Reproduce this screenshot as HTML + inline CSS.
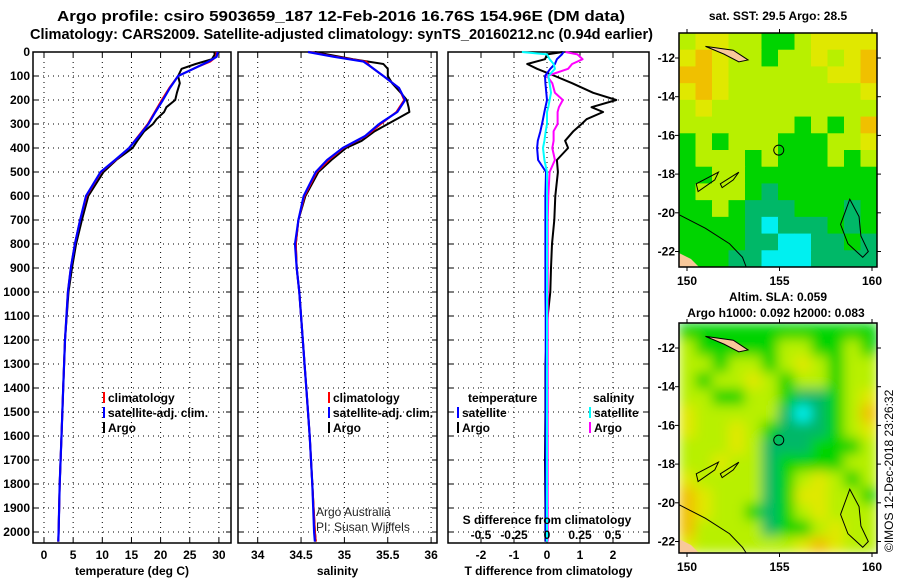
<!DOCTYPE html>
<html><head><meta charset="utf-8"><style>
body{margin:0;background:#fff;}
svg{display:block;font-family:"Liberation Sans",sans-serif;}
.t{font-weight:bold;font-size:15px;}
.a{font-weight:bold;font-size:12px;}
</style></head><body>
<svg id="c" width="900" height="580" viewBox="0 0 900 580">
<defs>
<filter id="bl" x="0" y="0" width="1" height="1"><feGaussianBlur stdDeviation="6"/></filter>
<clipPath id="cp2"><rect x="679" y="323" width="198" height="230"/></clipPath>
</defs>
<text class="t" x="57" y="21" textLength="568" lengthAdjust="spacingAndGlyphs">Argo profile: csiro 5903659_187 12-Feb-2016 16.76S 154.96E (DM data)</text>
<text class="t" x="30" y="39" textLength="623" lengthAdjust="spacingAndGlyphs">Climatology: CARS2009. Satellite-adjusted climatology: synTS_20160212.nc (0.94d earlier)</text>
<text class="a" x="778" y="20" text-anchor="middle">sat. SST: 29.5 Argo: 28.5</text>
<text class="a" x="778" y="301" text-anchor="middle">Altim. SLA: 0.059</text>
<text class="a" x="776" y="317" text-anchor="middle">Argo h1000: 0.092 h2000: 0.083</text>
<text x="893" y="552" font-size="12" transform="rotate(-90 893 552)">©IMOS 12-Dec-2018 23:26:32</text>
<g id="g"></g>
</svg>
<script>
// ---------- data ----------
const depthTicks=[0,100,200,300,400,500,600,700,800,900,1000,1100,1200,1300,1400,1500,1600,1700,1800,1900,2000];
const tempTicks=[0,5,10,15,20,25,30];
const salTicks=[34,34.5,35,35.5,36];
const tdiffTicks=[-2,-1,0,1,2];
const sdiffTicks=[-0.5,-0.25,0,0.25,0.5];
const sdiffLabels=["-0.5","-0.25","0","0.25","0.5"];

const climDepth=[0,20,40,60,100,150,200,250,300,350,400,450,500,600,700,800,900,1000,1200,1400,1600,1800,2000,2040];
const climTemp=[29.6,29.5,28.5,26.5,23.0,21.5,20.2,19.0,17.8,16.2,14.6,12.3,9.8,7.3,6.2,5.3,4.6,4.1,3.6,3.3,3.0,2.7,2.5,2.45];
const satTemp=[29.8,29.6,28.2,26.5,23.0,21.6,20.4,19.1,17.9,16.3,14.6,12.2,9.7,7.2,6.2,5.3,4.6,4.1,3.6,3.3,3.0,2.7,2.5,2.45];
const argoDepth=[0,10,30,50,70,100,130,170,200,230,250,280,300,330,370,400,450,500,600,700,800,900,1000,1200,1400,1600,1800,2000,2040];
const argoTemp=[29.2,29.3,28.8,26.0,23.6,23.0,23.3,22.8,22.5,21.0,20.6,19.3,18.7,17.2,16.0,15.2,12.4,10.2,7.6,6.5,5.5,4.8,4.2,3.6,3.3,3.0,2.7,2.5,2.45];

const climSal=[34.6,34.9,35.25,35.3,35.45,35.63,35.69,35.6,35.42,35.25,34.99,34.82,34.68,34.54,34.47,34.44,34.45,34.48,34.52,34.56,34.6,34.63,34.66,34.67];
const satSal=[34.58,34.88,35.22,35.3,35.45,35.63,35.7,35.61,35.4,35.24,34.98,34.8,34.67,34.53,34.47,34.43,34.45,34.48,34.52,34.56,34.6,34.63,34.65,34.66];
const argoSal=[34.66,34.8,35.1,35.45,35.5,35.5,35.55,35.65,35.72,35.74,35.75,35.6,35.5,35.35,35.2,35.02,34.85,34.7,34.55,34.47,34.44,34.45,34.48,34.52,34.56,34.6,34.63,34.66,34.67];

const diffDepth=[0,10,30,50,70,100,130,170,200,230,250,280,300,330,370,400,450,500,600,700,800,900,1000,1100,1300,1500,1700,1900,2040];
const tSatDiff=[0.5,0.45,0.3,0.24,0.1,-0.06,-0.05,-0.02,0,-0.05,-0.08,-0.12,-0.15,-0.2,-0.28,-0.3,-0.27,-0.03,-0.05,-0.05,-0.05,-0.05,-0.05,-0.04,-0.04,-0.04,-0.04,-0.04,-0.04];
const tArgoDiff=[0.48,0,-0.06,-0.6,-0.3,0.24,0.76,1.4,2.1,1.35,1.7,1.2,1.05,0.8,0.55,0.64,0.3,0.33,0.25,0.22,0.15,0.12,0.1,0.02,-0.05,-0.05,-0.06,-0.05,-0.05];
const sSatDiff=[-0.19,0,0.02,0.05,0.06,0.01,0.02,0.03,0.02,0.01,0.0,0.0,0.0,-0.01,-0.02,-0.03,-0.02,0.0,0.0,0.0,0.0,0.0,0.0,0.0,0.0,0.0,0.0,0.0,0.0];
const sArgoDiff=[0.14,0.23,0.27,0.19,0.16,0.0,0.04,0.06,0.12,0.09,0.08,0.08,0.08,0.05,0.05,0.04,0.06,0.02,0.01,0.005,0.005,0.005,0.005,0.005,0.005,0.005,0.005,0.005,0.005];

// map grids (color codes)
const sstGrid=["LYYLLGGLYYYY","YOYLLGLLYLYO","OOYLLLLLLYYO","YOYLLLLLLLLY","LYLLLLLLLLLL","LLLLLLLGLGLO","GLGLLLGGGLLY","GLLLGLGGGLGL","GGLLGGGGGGGG","GLLLGDGGGGGG","GGLGDDDGGGDG","GGGGDCDDDGDG","GGGGDDCCDDGD","GGGDDCCCDDDD"];
const slaGrid=["GGGGGGGGGGGG","LGGGGGLLGGLG","LLGLLGLYLGLL","LGLLYLGLLGLL","LLGGLLGDDGLY","YLLLLLDCDGLO","YLLYLGDDDGLY","LLLYLDDDGGGL","LLYLLDGGGGLL","YLLLLDGLYLGL","OYLLLDGYYLLG","OYLLGDGLYLLL","OLLLLDGGLYLL","YLLLLLLYOYLL"];
const argoLon=154.96, argoLat=-16.76;

// ---------- helpers ----------
const NS='http://www.w3.org/2000/svg';
const G=document.getElementById('g');
function mk(tag,at,parent){const e=document.createElementNS(NS,tag);for(const k in at)e.setAttribute(k,at[k]);(parent||G).appendChild(e);return e;}
const Y0=52, YK=0.24, yB=543, yT=52;
const yD=d=>Y0+d*YK;
const panels=[{x0:33,x1:231,f:v=>44+v*5.83,ticks:tempTicks,lab:"temperature (deg C)",name:"temperature"},
{x0:238,x1:437,f:v=>257.7+(v-34)*86.7,ticks:salTicks,lab:"salinity",name:"salinity"},
{x0:448,x1:649,f:v=>547+v*33,ticks:tdiffTicks,lab:"T difference from climatology",name:"difference"}];
const sx=v=>547+v*132;

panels.forEach((p,pi)=>{
  const fr=mk('g',{});
  
  
  depthTicks.forEach(d=>{const y=yD(d);
    mk('line',{x1:p.x0,x2:p.x1,y1:y,y2:y,stroke:'#000','stroke-width':1,'stroke-dasharray':'1,4'},fr);
    mk('line',{x1:p.x0,x2:p.x0+5,y1:y,y2:y,stroke:'#000'},fr);
    mk('line',{x1:p.x1-5,x2:p.x1,y1:y,y2:y,stroke:'#000'},fr);
    if(pi==0){const t=mk('text',{x:30,y:y+4,'text-anchor':'end',class:'a'},fr);t.textContent=d;
      }
  });
  p.ticks.forEach(v=>{const x=p.f(v);
    mk('line',{x1:x,x2:x,y1:yT,y2:yB,stroke:'#000','stroke-dasharray':'1,4'},fr);
    mk('line',{x1:x,x2:x,y1:yB-5,y2:yB,stroke:'#000'},fr);
    mk('line',{x1:x,x2:x,y1:yT,y2:yT+5,stroke:'#000'},fr);
    const t=mk('text',{x:x,y:559,'text-anchor':'middle',class:'a'},fr);t.textContent=v;
    
  });
  mk('rect',{x:p.x0,y:yT,width:p.x1-p.x0,height:yB-yT,fill:'none',stroke:'#000','stroke-width':1.5},fr);
  const t=mk('text',{x:(p.x0+p.x1)/2,y:575,'text-anchor':'middle',class:'a','font-size':13},fr);t.textContent=p.lab;
  
});

function line(depths,vals,fx,color,w,name){
  const pts=depths.map((d,i)=>fx(vals[i]).toFixed(1)+','+yD(d).toFixed(1)).join(' ');
  const e=mk('polyline',{points:pts,fill:'none',stroke:color,'stroke-width':w,'stroke-linejoin':'round'});
  
  
}
const fT=panels[0].f, fS=panels[1].f, fD=panels[2].f;
line(argoDepth,argoTemp,fT,'#000',2,'argo-temperature-line');
line(climDepth,climTemp,fT,'#f00',2,'climatology-temperature-line');
line(climDepth,satTemp,fT,'#00f',2.2,'satellite-temperature-line');
line(argoDepth,argoSal,fS,'#000',2,'argo-salinity-line');
line(climDepth,climSal,fS,'#f00',2,'climatology-salinity-line');
line(climDepth,satSal,fS,'#00f',2.2,'satellite-salinity-line');
line(diffDepth,tArgoDiff,fD,'#000',2,'argo-temperature-diff-line');
line(diffDepth,sArgoDiff,sx,'#f0f',2,'argo-salinity-diff-line');
line(diffDepth,tSatDiff,fD,'#00f',2,'satellite-temperature-diff-line');
line(diffDepth,sSatDiff,sx,'#0ff',2,'satellite-salinity-diff-line');

const sl=mk('text',{x:547,y:524,'text-anchor':'middle',class:'a','font-size':13});sl.textContent='S difference from climatology';

sdiffTicks.forEach((v,i)=>{const t=mk('text',{x:sx(v),y:539,'text-anchor':'middle',class:'a'});t.textContent=sdiffLabels[i];
  });

function leg(x,y,color,txt,name){const g=mk('g',{});
  
  if(color)mk('line',{x1:x-4,x2:x-4,y1:y-10,y2:y+1,stroke:color,'stroke-width':2},g);
  const t=mk('text',{x:x,y:y,class:'a'},g);t.textContent=txt;}
[108,333].forEach(x=>{
  leg(x,402,'#f00','climatology','legend-climatology');
  leg(x,417,'#00f','satellite-adj. clim.','legend-satellite');
  leg(x,432,'#000','Argo','legend-argo');
});
leg(468,402,null,'temperature','legend-temperature-header');
leg(462,417,'#00f','satellite','legend-t-satellite');
leg(462,432,'#000','Argo','legend-t-argo');
leg(593,402,null,'salinity','legend-salinity-header');
leg(594,417,'#0ff','satellite','legend-s-satellite');
leg(594,432,'#f0f','Argo','legend-s-argo');
[['Argo Australia',516],['PI: Susan Wijffels',531]].forEach(([s,y])=>{const t=mk('text',{x:316,y:y,'font-size':12,fill:'#222'});t.textContent=s;
  });

const col={O:'#f0c000',Y:'#e0e800',L:'#b8f000',G:'#00d400',D:'#00b868',C:'#00f0f0'};
const lonTicks=[150,155,160], latTicks=[-12,-14,-16,-18,-20,-22];
function map(y0,h,grid,blur,name){
  const g=mk('g',{});
  const x0=679,w=198,nc=12,nr=grid.length;
  const mx=lon=>687+(lon-150)*18.5, my=lat=>y0+25+(-12-lat)*19.35;
  const cg=mk('g',blur?{filter:'url(#bl)'}:{},mk('g',blur?{'clip-path':'url(#cp2)'}:{},g));
  if(blur)mk('rect',{x:x0,y:y0,width:w,height:h,fill:'#7ee000'},cg);
  grid.forEach((r,ri)=>[...r].forEach((c,ci)=>mk('rect',{x:x0+ci*w/nc,y:y0+ri*h/nr,width:w/nc+0.5,height:h/nr+0.5,fill:col[c]},cg)));
  mk('path',{d:`M${x0} ${y0+h} L${x0} ${y0+h-14} L${x0+12} ${y0+h-8} L${x0+20} ${y0+h} Z`,fill:'#f8c89a'},g);
  mk('path',{d:`M${mx(151)} ${my(-11.4)} L${mx(152.5)} ${my(-11.6)} L${mx(153.3)} ${my(-12.1)} L${mx(152.8)} ${my(-12.2)} L${mx(152)} ${my(-11.8)} Z`,fill:'#f8c89a',stroke:'#000','stroke-width':1},g);
  const cs={fill:'none',stroke:'#000','stroke-width':1};
  mk('path',Object.assign({d:`M${x0} ${my(-20.1)} L${mx(151)} ${my(-20.8)} L${mx(152.3)} ${my(-21.6)} L${mx(153)} ${my(-22.3)} L${mx(153.2)} ${y0+h}`},cs),g);
  mk('path',Object.assign({d:`M${mx(158.3)} ${my(-20.6)} L${mx(158.8)} ${my(-19.3)} L${mx(159.3)} ${my(-20.2)} L${mx(159.4)} ${my(-21.2)} L${mx(159.8)} ${my(-22)} L${mx(159.5)} ${my(-22.3)} L${mx(158.7)} ${my(-21.6)} L${mx(158.3)} ${my(-20.6)} Z`},cs),g);
  mk('path',Object.assign({d:`M${mx(150.5)} ${my(-18.5)} L${mx(151.7)} ${my(-17.9)} L${mx(151.5)} ${my(-18.3)} L${mx(150.6)} ${my(-18.9)} Z M${mx(151.8)} ${my(-18.5)} L${mx(152.8)} ${my(-17.9)} L${mx(152.5)} ${my(-18.3)} L${mx(151.9)} ${my(-18.7)} Z`},cs),g);
  mk('circle',{cx:mx(argoLon),cy:my(argoLat),r:5,fill:'none',stroke:'#000','stroke-width':1},g);
  mk('rect',{x:x0,y:y0,width:w,height:h,fill:'none',stroke:'#000','stroke-width':1.5},g);
  lonTicks.forEach(l=>{const x=mx(l);mk('line',{x1:x,x2:x,y1:y0+h,y2:y0+h+4,stroke:'#000'},g);mk('line',{x1:x,x2:x,y1:y0-4,y2:y0,stroke:'#000'},g);
    const t=mk('text',{x:x,y:y0+h+18,'text-anchor':'middle',class:'a'},g);t.textContent=l;
    });
  latTicks.forEach(l=>{const y=my(l);mk('line',{x1:x0-4,x2:x0,y1:y,y2:y,stroke:'#000'},g);mk('line',{x1:x0+w,x2:x0+w+4,y1:y,y2:y,stroke:'#000'},g);
    const t=mk('text',{x:x0-4,y:y+4,'text-anchor':'end',class:'a'},g);t.textContent=l;
    });
}
map(33,234,sstGrid,false,'sst-map');
map(323,230,slaGrid,true,'sla-map');
</script>
</body></html>
